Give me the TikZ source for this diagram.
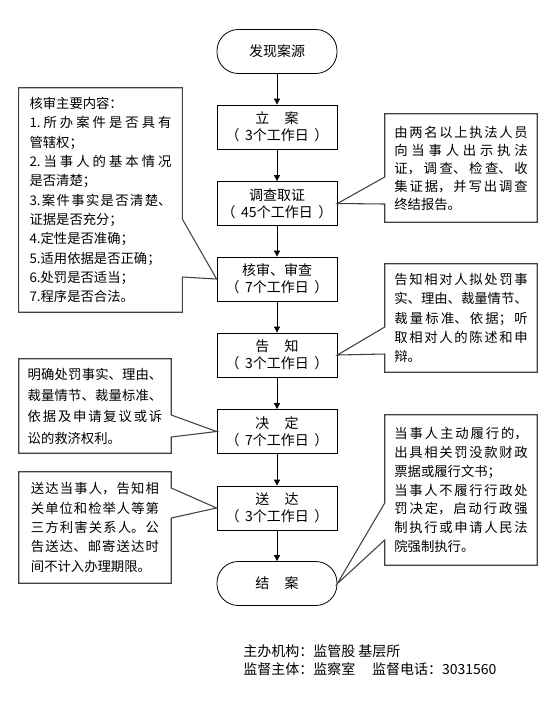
\documentclass[tikz,border=0pt]{standalone}
\usepackage{fontspec}
\setmainfont{Noto Sans CJK SC}
\usetikzlibrary{arrows.meta}
\XeTeXlinebreaklocale "zh"
\XeTeXlinebreakskip=0pt plus 3pt

\newcommand{\days}[1]{（\hspace{0.4em}#1个工作日\hspace{0.4em}）}

\tikzset{
  stepbox/.style={draw, line width=0.6pt, minimum width=90pt, minimum height=33pt,
    inner sep=1pt, align=center, font=\fontsize{10.5}{12.5}\selectfont},
  termbox/.style={stepbox, rounded corners=16pt},
  flow/.style={line width=0.6pt, -{Triangle[width=4.5pt,length=4.5pt]}},
  note/.style={inner ysep=0pt, align=justify, font=\fontsize{10}{14.5}\selectfont},
  callout/.style={draw=black!75, line width=0.8pt},
}

\begin{document}
\begin{tikzpicture}[x=0.75pt, y=-0.75pt]
  \useasboundingbox (0,0) rectangle (548,708);

  % main flow
  \node[termbox] (start)   at (277,51.5)  {发现案源};
  \node[stepbox] (lian)    at (277,127)   {立\hspace{1.1em}案\\\days{3}};
  \node[stepbox] (diaocha) at (277,203.5) {调查取证\\\days{45}};
  \node[stepbox] (heshen)  at (277,279)   {核审、审查\\\days{7}};
  \node[stepbox] (gaozhi)  at (277,355)   {告\hspace{1.1em}知\\\days{3}};
  \node[stepbox] (jueding) at (277,431.5) {决\hspace{1.1em}定\\\days{7}};
  \node[stepbox] (songda)  at (277,508)   {送\hspace{1.1em}达\\\days{3}};
  \node[termbox] (jiean)   at (277,583.5) {结\hspace{1.1em}案};

  \foreach \a/\b in {start/lian, lian/diaocha, diaocha/heshen, heshen/gaozhi,
                     gaozhi/jueding, jueding/songda, songda/jiean}
    \draw[flow] (\a.south) -- (\b.north);

  % notes on the right
  \node[note, text width=100pt, inner xsep=7pt, minimum width=114pt, minimum height=81pt,
        font=\fontsize{10}{13.5}\selectfont] (rA) at (461,168)
    {由两名以上执法人员\linebreak 向当事人出示执法\linebreak 证，调查、检查、收\linebreak
     集证据，并写出调查\linebreak 终结报告。};
  \node[note, text width=100pt, inner xsep=7pt, minimum width=114pt, minimum height=81pt] (rB) at (461,318)
    {告知相对人拟处罚事\linebreak 实、理由、裁量情节、\linebreak 裁量标准、依据；听\linebreak
     取相对人的陈述和申\linebreak 辩。};
  \node[note, text width=100pt, inner xsep=7pt, minimum width=114pt, minimum height=112.5pt,
        font=\fontsize{10}{14.1}\selectfont] (rC) at (461,490)
    {当事人主动履行的，\linebreak 出具相关罚没款财政\linebreak 票据或履行文书；\\
     当事人不履行行政处\linebreak 罚决定，启动行政强\linebreak 制执行或申请人民法\linebreak
     院强制执行。};

  \foreach \n/\t/\a/\b in {rA/diaocha/177/204, rB/gaozhi/327/354, rC/jiean/503/540}
    \draw[callout] (\n.north west) -- (\n.north east) -- (\n.south east) -- (\n.south west)
      -- (\n.west |- 0,\b) -- (\t.east) -- (\n.west |- 0,\a) -- cycle;

  % notes on the left
  \node[note, text width=106.5pt, inner xsep=7.9pt, minimum width=122.25pt, minimum height=168pt] (lA) at (100.5,200)
    {核审主要内容：\\
     1.所办案件是否具有\linebreak 管辖权；\\
     2.当事人的基本情况\linebreak 是否清楚；\\
     3.案件事实是否清楚、\linebreak 证据是否充分；\\
     4.定性是否准确；\\
     5.适用依据是否正确；\\
     6.处罚是否适当；\\
     7.程序是否合法。};
  \node[note, text width=101pt, inner xsep=6.5pt, minimum width=114pt, minimum height=70.5pt,
        font=\fontsize{10}{16}\selectfont] (lB) at (95,406)
    {明确处罚事实、理由、\linebreak 裁量情节、裁量标准、\linebreak 依据及申请复议或诉\linebreak
     讼的救济权利。};
  \node[note, text width=96pt, inner xsep=9pt, minimum width=114pt, minimum height=83.25pt] (lC) at (95,527.5)
    {送达当事人，告知相\linebreak 关单位和检举人等第\linebreak 三方利害关系人。公\linebreak
     告送达、邮寄送达时\linebreak 间不计入办理期限。};

  \foreach \n/\t/\a/\b in {lA/heshen/219/277, lB/jueding/415/437, lC/songda/488/518}
    \draw[callout] (\n.north west) -- (\n.north east) -- (\n.east |- 0,\a) -- (\t.west)
      -- (\n.east |- 0,\b) -- (\n.south east) -- (\n.south west) -- cycle;

  % footer
  \node[anchor=west, align=left, inner sep=0pt, font=\fontsize{10.5}{13.5}\selectfont] (footer) at (243,660)
    {主办机构：监管股 基层所\\监督主体：监察室\hspace{1.2em}监督电话：3031560};
\end{tikzpicture}
\end{document}
